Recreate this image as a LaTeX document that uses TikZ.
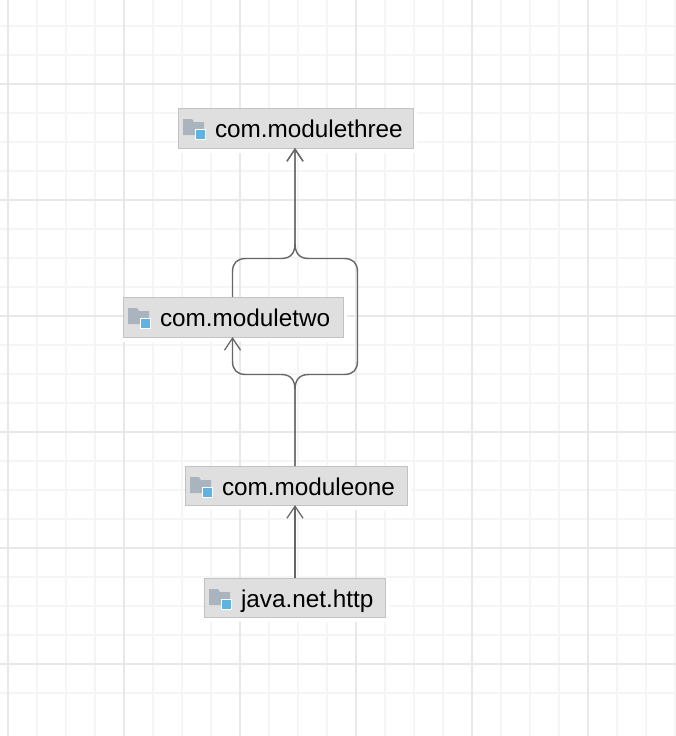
\documentclass[tikz,border=0pt]{standalone}
\usepackage{fontspec}
\setmainfont{Liberation Sans}
\usetikzlibrary{arrows.meta}
\definecolor{gridmajor}{HTML}{E8E8E8}
\definecolor{gridminor}{HTML}{F5F5F5}
\definecolor{boxfill}{HTML}{DFDFDF}
\definecolor{boxedge}{HTML}{C2C2C2}
\definecolor{foldergrey}{HTML}{A9B4BF}
\definecolor{modblue}{HTML}{5FB3E0}
\definecolor{linkcol}{HTML}{666666}
\tikzset{
  modbox/.style={draw=boxedge,fill=boxfill,line width=1pt,inner sep=0pt,outer sep=0pt},
  modlabel/.style={inner sep=0pt,outer sep=0pt,text=black,font=\fontsize{24.3}{26}\selectfont},
  link/.style={draw=linkcol,line width=1.4pt,rounded corners=0pt},
  linkhead/.style={link,-{Straight Barb[length=12pt,width=16pt,line width=1.3pt]}},
}
% #1 name, #2 left, #3 top, #4 right, #5 bottom, #6 text
\newcommand{\modulebox}[6]{%
  \fill[white] (#2,#3) rectangle (#4+4,#5+5);
  \node[modbox,minimum width=#4pt-#2pt,minimum height=#5pt-#3pt] (#1) at ({(#2+#4)/2},{(#3+#5)/2}) {};
  \fill[foldergrey] (#2+5,#3+11) -- (#2+14,#3+11) -- (#2+16,#3+14) -- (#2+26,#3+14) -- (#2+26,#3+27) -- (#2+5,#3+27) -- cycle;
  \fill[modblue,draw=white,line width=0.7pt] (#2+17.8,#3+21.8) rectangle (#2+27.6,#3+31.6);
  \node[modlabel,anchor=base west] (#1-text) at (#2+37,#3+29) {#6};
}
\begin{document}
\begin{tikzpicture}[x=1pt,y=-1pt]
\useasboundingbox (0,0) rectangle (676,736);
\begin{scope}
\clip (0,0) rectangle (676,736);
\foreach \i in {-1,...,23} {
  \draw[gridminor,line width=1.5pt] ({8+29*\i},0) -- ({8+29*\i},736);
  \draw[gridminor,line width=1.5pt] (0,{26+29*\i}) -- (676,{26+29*\i});
}
\foreach \i in {0,...,5} {
  \draw[gridmajor,line width=2pt] ({8+116*\i},0) -- ({8+116*\i},736);
  \draw[gridmajor,line width=2pt] (0,{84+116*\i}) -- (676,{84+116*\i});
}
\end{scope}
\modulebox{three}{178}{108}{413}{148}{com.modulethree}
\modulebox{two}{123}{297}{343}{337}{com.moduletwo}
\modulebox{one}{185}{466}{407}{505}{com.moduleone}
\modulebox{http}{204}{578}{385}{617}{java.net.http}
\coordinate (tosouth) at (295,148);
\coordinate (twosouth) at (232.5,337);
\coordinate (twonorth) at (232.5,297);
% java.net.http -> com.moduleone
\draw[linkhead] (http.north -| tosouth) -- (one.south -| tosouth);
% com.moduleone -> com.moduletwo
\draw[linkhead] (one.north -| tosouth) -- (295,390)
  .. controls (295,380) and (291,374.5) .. (281,374.5) -- (246,374.5)
  .. controls (237,374.5) and (232.5,370) .. (232.5,361) -- (twosouth);
% com.moduleone -> com.modulethree
\draw[linkhead] (one.north -| tosouth) -- (295,390)
  .. controls (295,380) and (299,374.5) .. (309,374.5) -- (344,374.5)
  .. controls (353,374.5) and (357.5,370) .. (357.5,361) -- (357.5,272)
  .. controls (357.5,263) and (353,258.5) .. (344,258.5) -- (309,258.5)
  .. controls (299,258.5) and (295,253) .. (295,243) -- (tosouth);
% com.moduletwo -> com.modulethree
\draw[linkhead] (twonorth) -- (232.5,272)
  .. controls (232.5,263) and (237,258.5) .. (246,258.5) -- (281,258.5)
  .. controls (291,258.5) and (295,253) .. (295,243) -- (tosouth);
\end{tikzpicture}
\end{document}
